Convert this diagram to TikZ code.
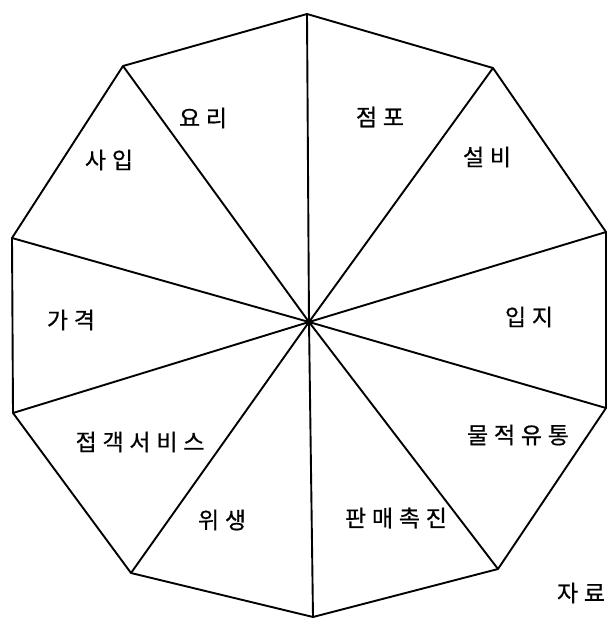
\documentclass[tikz,border=0pt]{standalone}
\usepackage{fontspec}
\usepackage{xcolor}
\usepackage{tikz}
\usetikzlibrary{positioning}
\newfontfamily\kofont[LetterSpace=25, FakeBold=0.6]{Noto Sans CJK KR}

\begin{document}
\begin{tikzpicture}[x=1pt, y=-1pt, line width=1.9pt, line join=round,
    lab/.style={font=\kofont\fontsize{23}{23}\selectfont, inner sep=0pt}]
    \useasboundingbox (0,0) rectangle (607,619);
    % center and corners of the ring
    \coordinate (O) at (309,322);
    \coordinate (v1) at (307,14);
    \coordinate (v2) at (493,68);
    \coordinate (v3) at (606,232);
    \coordinate (v4) at (606,408);
    \coordinate (v5) at (498,569);
    \coordinate (v6) at (313,617);
    \coordinate (v7) at (131,573);
    \coordinate (v8) at (13,413);
    \coordinate (v9) at (12,238);
    \coordinate (v10) at (123,66);
    % outline
    \draw (v1) -- (v2) -- (v3) -- (v4) -- (v5) -- (v6) -- (v7) -- (v8) -- (v9) -- (v10) -- cycle;
    % spokes
    \draw (O) -- (v1) (O) -- (v2) (O) -- (v3) (O) -- (v4) (O) -- (v5);
    \draw (O) -- (v6) (O) -- (v7) (O) -- (v8) (O) -- (v9) (O) -- (v10);
    \fill (O) circle (3pt);
    % labels
    \node[lab] (yori) at (203,118) {요리};
    \node[lab] (jeompo) at (380,117) {점포};
    \node[lab] (saip) at (109,160) {사입};
    \node[lab] (seolbi) at (487,157) {설비};
    \node[lab] (gagyeok) at (71,320) {가격};
    \node[lab] (ipji) at (529,317) {입지};
    \node[lab] (jeopgaek) at (140,442) {접객서비스};
    \node[lab] (muljeok) at (518,435) {물적유통};
    \node[lab] (wisaeng) at (222,520) {위생};
    \node[lab] (panmae) at (396,518) {판매촉진};
    \node[lab] (jaryo) at (581,593) {자료};
\end{tikzpicture}
\end{document}
